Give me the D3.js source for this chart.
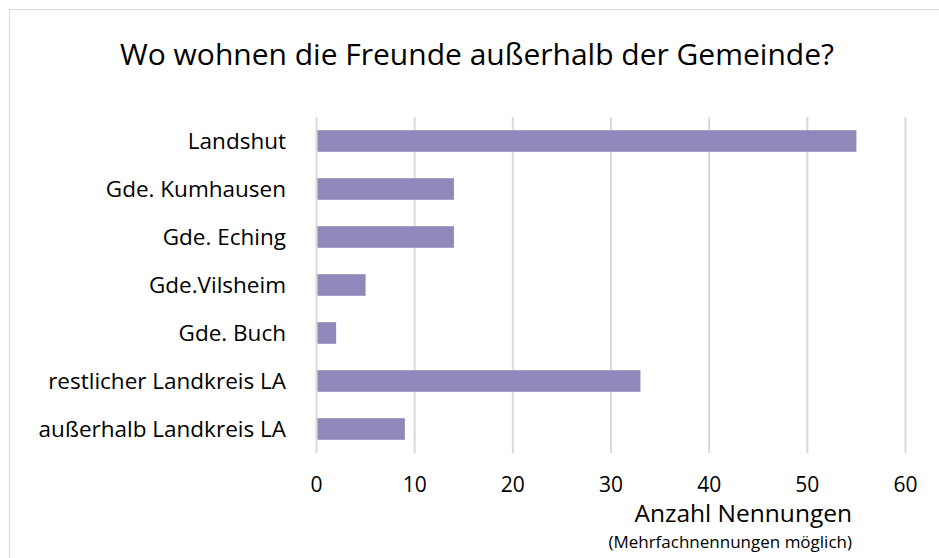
<!DOCTYPE html>
<html>
<head>
<meta charset="utf-8">
<script src="https://cdn.jsdelivr.net/npm/d3@7"></script>
<style>
  body { margin: 0; background: #fff; }
  svg text { font-family: "Open Sans", sans-serif; fill: #000; }
</style>
</head>
<body>
<div id="chart"></div>
<script>
// data
var categories = ['Landshut', 'Gde. Kumhausen', 'Gde. Eching', 'Gde.Vilsheim',
    'Gde. Buch', 'restlicher Landkreis LA', 'außerhalb Landkreis LA'];
var values = [55, 14, 14, 5, 2, 33, 9];
var xTicks = [0, 10, 20, 30, 40, 50, 60];

var svgWidth = 939;
var svgHeight = 558;

var margins = { top: 117, right: 34, bottom: 105, left: 316 };
var width = svgWidth - margins.left - margins.right;
var height = svgHeight - margins.top - margins.bottom;

var svg = d3.select('#chart')
    .append('svg')
    .attr('width', svgWidth)
    .attr('height', svgHeight);

// outer frame
svg.append('rect')
    .attr('x', 9.5)
    .attr('y', 9.5)
    .attr('width', 960)
    .attr('height', 600)
    .attr('fill', 'none')
    .attr('stroke', '#d9d9d9');

svg.append('text')
    .attr('x', 477)
    .attr('y', 65)
    .attr('text-anchor', 'middle')
    .style('font-size', '30px')
    .text('Wo wohnen die Freunde außerhalb der Gemeinde?');

var chartGroup = svg.append('g')
    .attr('transform', `translate(${margins.left},${margins.top})`);

var xScale = d3.scaleLinear()
    .domain([0, 60])
    .range([0, 589]);

var yScale = d3.scaleBand()
    .domain(categories)
    .range([0, 336])
    .paddingInner(0.55)
    .paddingOuter(0.275);

// gridlines
chartGroup.append('g')
    .selectAll('line')
    .data(xTicks)
    .enter()
    .append('line')
    .attr('x1', d => xScale(d) + 0.5)
    .attr('x2', d => xScale(d) + 0.5)
    .attr('y1', 0)
    .attr('y2', 336)
    .attr('stroke', '#d9d9d9')
    .attr('stroke-width', 2);

// bars
chartGroup.selectAll('rect.bar')
    .data(values)
    .enter()
    .append('rect')
    .attr('class', 'bar')
    .attr('x', xScale(0) + 1.5)
    .attr('y', (d, i) => yScale(categories[i]))
    .attr('width', d => xScale(d) - xScale(0) - 1)
    .attr('height', yScale.bandwidth())
    .attr('fill', '#9088ba');

// category labels
var leftAxis = d3.axisLeft(yScale).tickSize(0).tickPadding(30);
var yAxis = chartGroup.append('g').call(leftAxis);
yAxis.select('.domain').remove();
yAxis.selectAll('text')
    .style('font-size', '22.5px')
    .attr('dy', '0.36em');

// x tick labels
var bottomAxis = d3.axisBottom(xScale).tickValues(xTicks).tickSize(0).tickPadding(24);
var xAxis = chartGroup.append('g')
    .attr('transform', `translate(0, 336)`)
    .call(bottomAxis);
xAxis.select('.domain').remove();
xAxis.selectAll('text').style('font-size', '21px');

// axis titles
svg.append('text')
    .attr('x', 852)
    .attr('y', 522)
    .attr('text-anchor', 'end')
    .style('font-size', '24.5px')
    .text('Anzahl Nennungen');

svg.append('text')
    .attr('x', 852)
    .attr('y', 548)
    .attr('text-anchor', 'end')
    .style('font-size', '17px')
    .text('(Mehrfachnennungen möglich)');
</script>
</body>
</html>
